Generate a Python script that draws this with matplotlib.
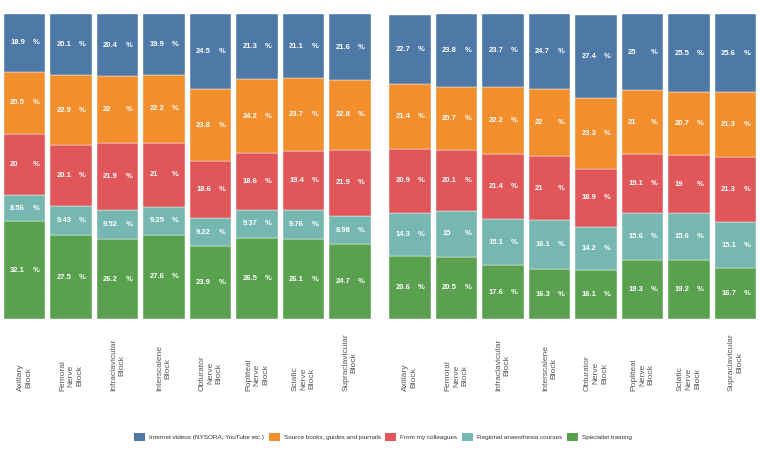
import numpy as np
import matplotlib.pyplot as plt
from matplotlib.patches import Patch

plt.rcParams['font.family'] = ['Liberation Sans', 'DejaVu Sans']

blocks = ['Axillary\nBlock', 'Femoral\nNerve\nBlock', 'Infraclavicular\nBlock',
          'Interscalene\nBlock', 'Obturator\nNerve\nBlock', 'Popliteal\nNerve\nBlock',
          'Sciatic\nNerve\nBlock', 'Supraclavicular\nBlock']

sources = ['Internet videos (NYSORA, YouTube etc.)', 'Source books, guides and journals',
           'From my colleagues', 'Regional anaesthesia courses', 'Specialist training']
colors = ['#4E79A7', '#F28E2B', '#E15759', '#76B7B2', '#59A14F']

# left panel (percent), one list per source
left_internet = [18.9, 20.1, 20.4, 19.9, 24.5, 21.3, 21.1, 21.6]
left_books = [20.5, 22.9, 22, 22.2, 23.8, 24.2, 23.7, 22.8]
left_colleagues = [20, 20.1, 21.9, 21, 18.6, 18.6, 19.4, 21.9]
left_courses = [8.56, 9.43, 9.52, 9.25, 9.22, 9.37, 9.76, 8.98]
left_training = [32.1, 27.5, 26.2, 27.6, 23.9, 26.5, 26.1, 24.7]

# right panel (percent)
right_internet = [22.7, 23.8, 23.7, 24.7, 27.4, 25, 25.5, 25.6]
right_books = [21.4, 20.7, 22.2, 22, 23.3, 21, 20.7, 21.3]
right_colleagues = [20.9, 20.1, 21.4, 21, 18.9, 19.1, 19, 21.3]
right_courses = [14.3, 15, 15.1, 16.1, 14.2, 15.6, 15.6, 15.1]
right_training = [20.6, 20.5, 17.6, 16.3, 16.1, 19.3, 19.2, 16.7]

panels = [
    [left_internet, left_books, left_colleagues, left_courses, left_training],
    [right_internet, right_books, right_colleagues, right_courses, right_training],
]

fig = plt.figure(figsize=(7.6, 4.5), dpi=100)
W, H = 760, 450
axes_px = [(1.25, 373.25), (386.75, 758.75)]
top_px, bot_px = 14, 319

x = np.arange(len(blocks))
for (x0, x1), series in zip(axes_px, panels):
    ax = fig.add_axes([x0 / W, 1 - bot_px / H, (x1 - x0) / W, (bot_px - top_px) / H])
    # stack from the bottom: training, courses, colleagues, books, internet
    bottom = np.zeros(len(blocks))
    for i in reversed(range(len(series))):
        vals = np.array(series[i], dtype=float)
        ax.bar(x, vals, 0.89, bottom=bottom, color=colors[i], edgecolor='white', linewidth=0.3)
        for xi, v, b in zip(x, vals, bottom):
            yc = b + v / 2
            ax.text(xi - 0.31, yc, f'{v:g}', color='white', fontsize=5.5, fontweight='bold',
                    ha='left', va='center')
            ax.text(xi + 0.17, yc, '%', color='white', fontsize=5.5, fontweight='bold',
                    ha='left', va='center')
        bottom += vals
    ax.set_ylim(0, max(bottom))
    ax.set_xlim(-0.5, len(blocks) - 0.5)
    ax.set_yticks([])
    ax.set_xticks(x)
    ax.set_xticklabels(blocks, rotation=90, fontsize=6, color='#555555',
                       va='bottom', ha='center', multialignment='center', linespacing=1.3)
    ax.tick_params(axis='x', length=0, pad=52)
    for s in ax.spines.values():
        s.set_visible(False)

handles = [Patch(facecolor=c, edgecolor='none') for c in colors]
fig.legend(handles, sources, loc='center', bbox_to_anchor=(383 / W, 1 - 437 / H), ncol=5,
           frameon=False, fontsize=4.6, handlelength=1.7, handleheight=1.55,
           handletextpad=0.65, columnspacing=0.7, labelcolor='#333333')

fig.savefig('out.png', dpi=100)
